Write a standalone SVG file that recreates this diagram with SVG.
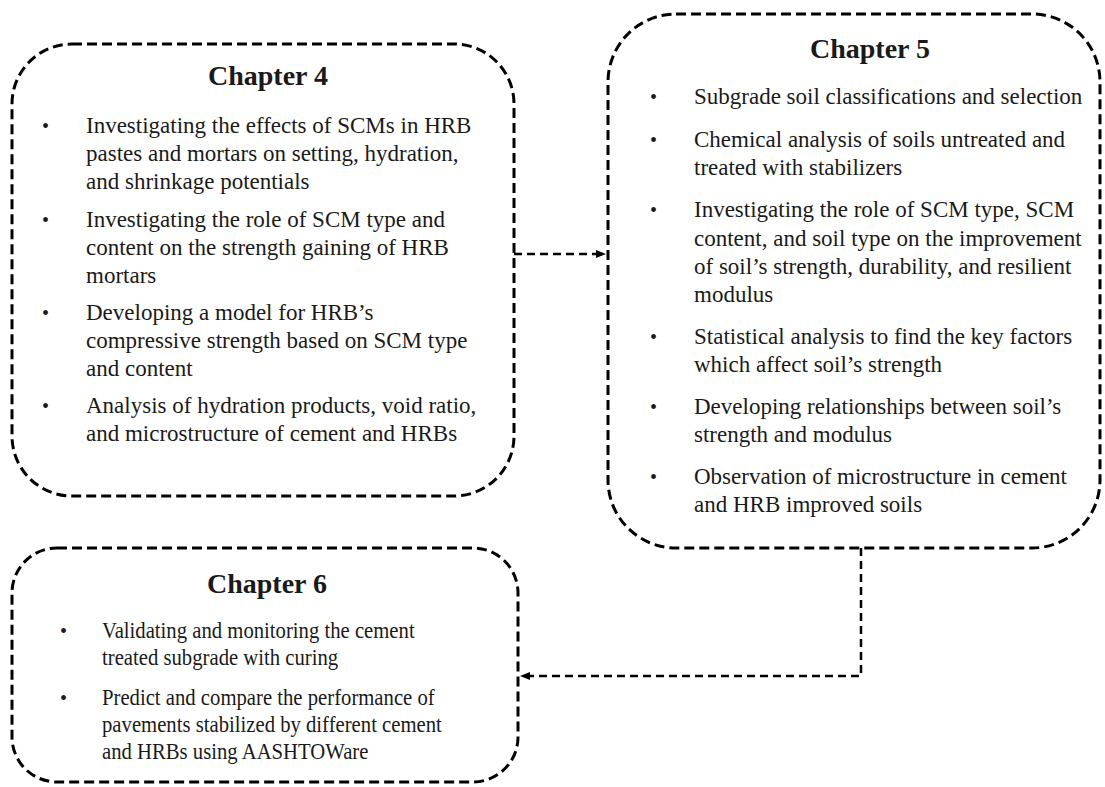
<svg xmlns="http://www.w3.org/2000/svg" width="1105" height="787" viewBox="0 0 1105 787">
<style>
.box{fill:none;stroke:#000;stroke-width:3;stroke-dasharray:10 5}
.con{fill:none;stroke:#000;stroke-width:2.5;stroke-dasharray:8 5}
text{font-family:"Liberation Serif","Times New Roman",serif;fill:#1a1a1a}
.t{font-size:28px;font-weight:bold;text-anchor:middle}
.b{font-size:23px}
.d{font-size:20px}
</style>
<defs>
<marker id="ah" markerWidth="10" markerHeight="10" refX="9" refY="5" orient="auto" markerUnits="userSpaceOnUse">
<path d="M0,1 L10,5 L0,9 Z" fill="#000"/>
</marker>
</defs>
<g id="connectors">
<path class="con" d="M514,254 L605,254" marker-end="url(#ah)"/>
<path class="con" d="M861,548 L861,676 L521,676" marker-end="url(#ah)"/>
</g>
<g id="chapter4">
<rect class="box" x="12" y="44" width="502" height="452" rx="60"/>
<text class="t" x="268" y="85">Chapter 4</text>
<g class="d">
<text x="42" y="133">•</text>
<text x="42" y="227">•</text>
<text x="42" y="320">•</text>
<text x="42" y="413">•</text>
</g>
<g class="b">
<text x="86" y="133">Investigating the effects of SCMs in HRB</text>
<text x="86" y="161">pastes and mortars on setting, hydration,</text>
<text x="86" y="189">and shrinkage potentials</text>
<text x="86" y="227">Investigating the role of SCM type and</text>
<text x="86" y="255">content on the strength gaining of HRB</text>
<text x="86" y="283">mortars</text>
<text x="86" y="320">Developing a model for HRB’s</text>
<text x="86" y="348">compressive strength based on SCM type</text>
<text x="86" y="376">and content</text>
<text x="86" y="413">Analysis of hydration products, void ratio,</text>
<text x="86" y="441">and microstructure of cement and HRBs</text>
</g>
</g>
<g id="chapter5">
<rect class="box" x="608" y="14" width="492" height="534" rx="68"/>
<text class="t" x="870" y="58">Chapter 5</text>
<g class="d">
<text x="650" y="104">•</text>
<text x="650" y="147">•</text>
<text x="650" y="217">•</text>
<text x="650" y="344">•</text>
<text x="650" y="414">•</text>
<text x="650" y="484">•</text>
</g>
<g class="b">
<text x="694" y="104">Subgrade soil classifications and selection</text>
<text x="694" y="147">Chemical analysis of soils untreated and</text>
<text x="694" y="175">treated with stabilizers</text>
<text x="694" y="217">Investigating the role of SCM type, SCM</text>
<text x="694" y="246">content, and soil type on the improvement</text>
<text x="694" y="274">of soil’s strength, durability, and resilient</text>
<text x="694" y="302">modulus</text>
<text x="694" y="344">Statistical analysis to find the key factors</text>
<text x="694" y="372">which affect soil’s strength</text>
<text x="694" y="414">Developing relationships between soil’s</text>
<text x="694" y="442">strength and modulus</text>
<text x="694" y="484">Observation of microstructure in cement</text>
<text x="694" y="512">and HRB improved soils</text>
</g>
</g>
<g id="chapter6">
<rect class="box" x="12" y="548" width="506" height="234" rx="45"/>
<text class="t" x="267" y="593">Chapter 6</text>
<g class="d">
<text x="60" y="638">•</text>
<text x="60" y="705">•</text>
</g>
<g class="b" transform="translate(102,0) scale(0.9,1)">
<text x="0" y="638">Validating and monitoring the cement</text>
<text x="0" y="665">treated subgrade with curing</text>
<text x="0" y="705">Predict and compare the performance of</text>
<text x="0" y="732">pavements stabilized by different cement</text>
<text x="0" y="759">and HRBs using AASHTOWare</text>
</g>
</g>
</svg>
